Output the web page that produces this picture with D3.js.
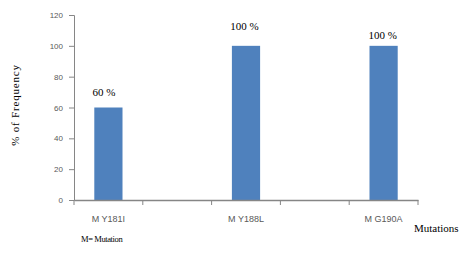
<!DOCTYPE html>
<html><head><meta charset="utf-8">
<script src="https://cdn.jsdelivr.net/npm/d3@7"></script>
<style>body{margin:0;background:#fff}svg{display:block}</style>
</head><body>
<svg id="c" width="470" height="256"></svg>
<script>
const categories = ["M Y181I", "gap1", "M Y188L", "gap2", "M G190A"];
const tickLabels = ["M Y181I", "", "M Y188L", "", "M G190A"];
const values = [60, null, 100, null, 100];
const barLabels = ["60 %", "", "100 %", "", "100 %"];
const yTicks = [0, 20, 40, 60, 80, 100, 120];

const svg = d3.select("#c");
const x = d3.scaleBand().domain(categories).range([74, 418]).paddingInner(0).paddingOuter(0);
const y = d3.scaleLinear().domain([0, 120]).range([200, 15]);
const barW = x.bandwidth() * 0.41;
const serif = "Liberation Serif, Times New Roman, serif";
const sans = "Liberation Sans, Arial, sans-serif";

const data = categories.map((c, i) => ({c, i, v: values[i], lab: barLabels[i]})).filter(d => d.v != null);

svg.selectAll("rect.bar").data(data).join("rect")
  .attr("x", d => x(d.c) + x.bandwidth()/2 - barW/2)
  .attr("y", d => y(d.v))
  .attr("width", barW)
  .attr("height", d => y(0) - y(d.v))
  .attr("fill", "#4F81BD");

// y axis
const ya = svg.append("g").attr("transform", "translate(74,0)")
  .call(d3.axisLeft(y).tickValues(yTicks).tickSize(5).tickPadding(6));
ya.select(".domain").attr("stroke", "#868686");
ya.selectAll(".tick line").attr("stroke", "#868686");
ya.selectAll(".tick text").attr("fill", "#595959").style("font-family", sans).style("font-size", "8px");

// x axis
const xa = svg.append("g").attr("transform", "translate(0,200)")
  .call(d3.axisBottom(x).tickSize(0).tickPadding(16).tickFormat((d, i) => tickLabels[i]));
xa.select(".domain").attr("stroke", "#868686").attr("stroke-width", 1.5);
xa.selectAll(".tick text").attr("fill", "#595959").style("font-family", sans).style("font-size", "9px");
// category boundary ticks
const bounds = categories.map(c => x(c)).concat([x.range()[1]]);
svg.append("g").selectAll("line").data(bounds).join("line")
  .attr("x1", d => d).attr("x2", d => d).attr("y1", 200).attr("y2", 205)
  .attr("stroke", "#868686");

// bar labels (manually placed in the original chart, slight offsets)
const labelDx = {0: -4.5, 2: -1.5, 4: -1};
const labelDy = {0: -11.5, 2: -15.5, 4: -6.5};
svg.selectAll("text.bl").data(data).join("text").attr("class", "bl")
  .attr("x", d => x(d.c) + x.bandwidth()/2 + labelDx[d.i])
  .attr("y", d => y(d.v) + labelDy[d.i])
  .attr("text-anchor", "middle")
  .style("font-family", serif).style("font-size", "11px").style("font-weight", "normal")
  .attr("fill", "#000").text(d => d.lab);

// y title
svg.append("text").attr("transform", "translate(19,105) rotate(-90)")
  .attr("text-anchor", "middle")
  .style("font-family", serif).style("font-size", "11px").style("letter-spacing", "0.8px")
  .text("% of Frequency");

svg.append("text").attr("x", 414).attr("y", 232)
  .style("font-family", serif).style("font-size", "11px")
  .text("Mutations");

svg.append("text").attr("x", 81).attr("y", 242)
  .style("font-family", serif).style("font-size", "8.5px").style("letter-spacing", "-0.4px")
  .text("M= Mutation");
</script>
</body></html>
